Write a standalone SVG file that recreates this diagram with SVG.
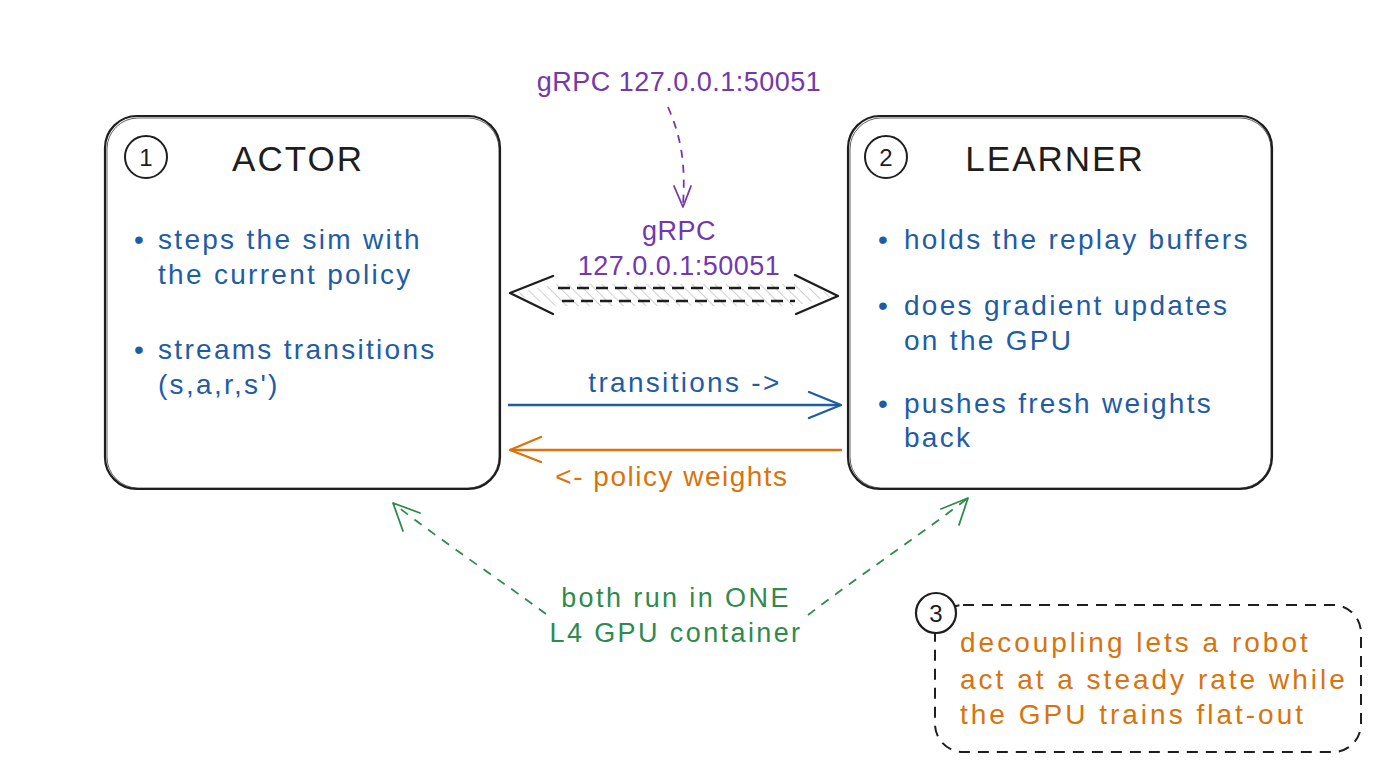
<svg xmlns="http://www.w3.org/2000/svg" width="1376" height="768" viewBox="0 0 1376 768">
<defs>
<style>
.box{fill:none;stroke:#1e1e1e;stroke-width:2.2;}
.box2{fill:none;stroke:#1e1e1e;stroke-width:1;opacity:.7;}
.num{fill:none;stroke:#1e1e1e;stroke-width:2;}
.numt{font-family:"Liberation Sans",Arial,sans-serif;font-size:24px;fill:#1e1e1e;text-anchor:middle;}
.title{font-family:"Liberation Sans",Arial,sans-serif;font-size:35px;fill:#1e1e1e;text-anchor:middle;letter-spacing:2px;}
.blue{font-family:"Liberation Sans",Arial,sans-serif;font-size:28px;fill:#1f5ca6;letter-spacing:2.3px;}
.purple{font-family:"Liberation Sans",Arial,sans-serif;font-size:27px;fill:#7338b0;text-anchor:middle;letter-spacing:0.5px;}
.orange{font-family:"Liberation Sans",Arial,sans-serif;font-size:28px;fill:#d9730d;letter-spacing:3px;}
.green{font-family:"Liberation Sans",Arial,sans-serif;font-size:27px;fill:#2f8a4c;text-anchor:middle;letter-spacing:2.4px;}
</style>
<pattern id="hatch" width="8" height="8" patternUnits="userSpaceOnUse" patternTransform="rotate(-45)">
<line x1="0" y1="0" x2="0" y2="8" stroke="#9a9a9a" stroke-width="1.2"/>
</pattern>
</defs>
<rect width="1376" height="768" fill="#ffffff"/>

<g id="actor">
<rect class="box" x="105" y="116" width="395" height="373" rx="32"/>
<rect class="box2" x="107" y="118" width="392" height="370" rx="31"/>
<circle class="num" cx="146" cy="157" r="21"/>
<text class="numt" x="146" y="166">1</text>
<text class="title" x="298" y="171">ACTOR</text>
<text class="blue" x="134" y="249">•</text>
<text class="blue" x="158" y="249">steps the sim with</text>
<text class="blue" x="158" y="284">the current policy</text>
<text class="blue" x="134" y="359">•</text>
<text class="blue" x="158" y="359">streams transitions</text>
<text class="blue" x="158" y="394">(s,a,r,s')</text>
</g>

<g id="learner">
<rect class="box" x="848" y="116" width="424" height="373" rx="32"/>
<rect class="box2" x="850" y="118" width="421" height="370" rx="31"/>
<circle class="num" cx="886" cy="157" r="21"/>
<text class="numt" x="886" y="166">2</text>
<text class="title" x="1055" y="171">LEARNER</text>
<text class="blue" x="878" y="249">•</text>
<text class="blue" x="904" y="249">holds the replay buffers</text>
<text class="blue" x="878" y="315">•</text>
<text class="blue" x="904" y="315">does gradient updates</text>
<text class="blue" x="904" y="350">on the GPU</text>
<text class="blue" x="878" y="413">•</text>
<text class="blue" x="904" y="413">pushes fresh weights</text>
<text class="blue" x="904" y="447">back</text>
</g>

<g id="grpc-note">
<text class="purple" x="679" y="91">gRPC 127.0.0.1:50051</text>
</g>

<g id="note">
<rect x="935" y="605" width="426" height="147" rx="28" fill="none" stroke="#1e1e1e" stroke-width="2" stroke-dasharray="11 8"/>
<circle cx="936" cy="613" r="20" fill="#ffffff" stroke="#1e1e1e" stroke-width="2.2"/>
<text class="numt" x="936" y="622">3</text>
<text class="orange" x="960" y="652">decoupling lets a robot</text>
<text class="orange" x="960" y="689">act at a steady rate while</text>
<text class="orange" x="960" y="724">the GPU trains flat-out</text>
</g>

<g id="connectors">
<path d="M668 107 C 680 135, 686 160, 683 205" fill="none" stroke="#7338b0" stroke-width="1.8" stroke-dasharray="8 7"/>
<path d="M674 186 L683 207 L691 186" fill="none" stroke="#7338b0" stroke-width="1.8" stroke-linecap="round" stroke-linejoin="round"/>
<text class="purple" x="679" y="240">gRPC</text>
<text class="purple" x="679" y="275">127.0.0.1:50051</text>

<polygon points="512,294 556,284 796,284 836,295 796,306 556,306" fill="url(#hatch)" opacity=".8"/>
<line x1="558" y1="288" x2="795" y2="288" stroke="#1e1e1e" stroke-width="2.4" stroke-dasharray="12 7"/>
<line x1="562" y1="301" x2="795" y2="301" stroke="#1e1e1e" stroke-width="2.4" stroke-dasharray="12 7"/>
<path d="M553 276 L510 293 L553 314" fill="none" stroke="#1e1e1e" stroke-width="2.4" stroke-linecap="round" stroke-linejoin="round"/>
<path d="M795 275 L838 296 L796 314" fill="none" stroke="#1e1e1e" stroke-width="2.4" stroke-linecap="round" stroke-linejoin="round"/>

<line x1="508" y1="405" x2="840" y2="405" stroke="#1f5ca6" stroke-width="2.4"/>
<path d="M809 392 L841 405 L809 418" fill="none" stroke="#1f5ca6" stroke-width="2.4" stroke-linecap="round" stroke-linejoin="round"/>
<text class="blue" x="685" y="392" text-anchor="middle">transitions -&gt;</text>

<line x1="510" y1="450" x2="842" y2="450" stroke="#d9730d" stroke-width="2.4"/>
<path d="M541 437 L510 450 L541 462" fill="none" stroke="#d9730d" stroke-width="2.4" stroke-linecap="round" stroke-linejoin="round"/>
<text class="orange" x="672" y="486" text-anchor="middle" style="letter-spacing:1.5px">&lt;- policy weights</text>

<path d="M546 614 C 500 580, 440 540, 393 503" fill="none" stroke="#2f8a4c" stroke-width="1.8" stroke-dasharray="9 8"/>
<path d="M403 531 L393 503 L420 513" fill="none" stroke="#2f8a4c" stroke-width="1.8" stroke-linecap="round" stroke-linejoin="round"/>
<path d="M808 615 C 860 575, 920 535, 968 498" fill="none" stroke="#2f8a4c" stroke-width="1.8" stroke-dasharray="9 8"/>
<path d="M941 509 L968 498 L959 525" fill="none" stroke="#2f8a4c" stroke-width="1.8" stroke-linecap="round" stroke-linejoin="round"/>
<text class="green" x="676" y="607">both run in ONE</text>
<text class="green" x="676" y="642">L4 GPU container</text>
</g>
</svg>
